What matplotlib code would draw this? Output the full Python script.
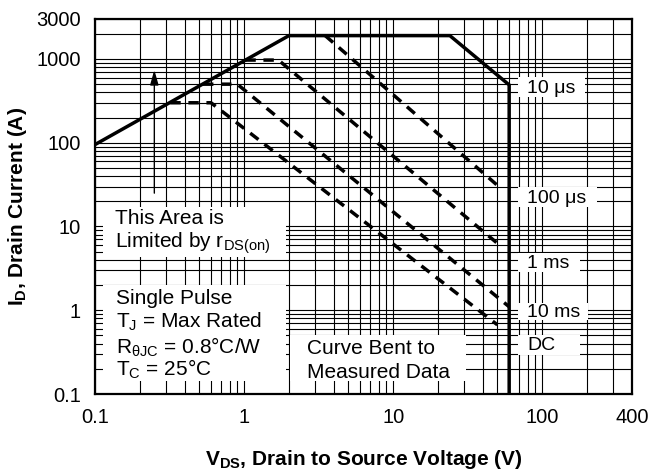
import numpy as np
import matplotlib
matplotlib.use("Agg")
import matplotlib.pyplot as plt
from matplotlib.patches import Rectangle
from matplotlib.ticker import FixedLocator, LogLocator, NullFormatter

plt.rcParams['font.family'] = ['Liberation Sans', 'DejaVu Sans']
plt.rcParams['mathtext.default'] = 'regular'

# safe operating area boundary (solid)
soa_v = [0.1, 2, 24, 60, 60]
soa_i = [95, 1900, 1900, 490, 0.1]

# pulse curves (dashed)
us100_v = [3.5, 50]
us100_i = [1900, 31]
ms1_v = [1.02, 1.7, 50]
ms1_i = [970, 970, 6.3]
ms10_v = [0.53, 0.9, 60]
ms10_i = [500, 500, 1.1]
dc_v = [0.32, 0.6, 50]
dc_i = [300, 300, 0.67]

# r_DS(on) arrow
arrow_v = 0.25
arrow_i = [25, 740]

xticks = [0.1, 1, 10, 100, 400]
xticklabels = ['0.1', '1', '10', '100', '400']
yticks = [0.1, 1, 10, 100, 1000, 3000]
yticklabels = ['0.1', '1', '10', '100', '1000', '3000']

curve_names = ['10 \u03bcs', '100 \u03bcs', '1 ms', '10 ms', 'DC']


fig = plt.figure(figsize=(6.52, 4.72), dpi=100)
ax = fig.add_axes([95/652, 1-394/472, 537/652, 375/472])
ax.set_xscale('log')
ax.set_yscale('log')
ax.set_xlim(0.1, 400)
ax.set_ylim(0.1, 3000)

# grid on every decade subdivision
ax.xaxis.set_major_locator(FixedLocator(xticks))
ax.yaxis.set_major_locator(FixedLocator(yticks))
ax.xaxis.set_minor_locator(LogLocator(base=10, subs=np.arange(2, 10), numticks=20))
ax.yaxis.set_minor_locator(LogLocator(base=10, subs=np.arange(2, 10), numticks=20))
ax.xaxis.set_minor_formatter(NullFormatter())
ax.yaxis.set_minor_formatter(NullFormatter())
ax.set_xticklabels(xticklabels)
ax.set_yticklabels(yticklabels)
ax.grid(which='both', color='black', linewidth=0.8, zorder=0)
ax.set_axisbelow(True)
ax.tick_params(which='both', length=0, labelsize=14.5)
ax.tick_params(axis='x', pad=10)
ax.tick_params(axis='y', pad=10)
for s in ax.spines.values():
    s.set_linewidth(1.6)
    s.set_zorder(5)


def box(px0, py0, px1, py1):
    """white box over the grid, given in pixel edges of the axes"""
    x0 = (px0 - 95) / 537.0
    y0 = (394 - py1) / 375.0
    r = Rectangle((x0, y0), (px1 - px0) / 537.0, (py1 - py0) / 375.0,
                  transform=ax.transAxes, facecolor='white', edgecolor='none', zorder=2)
    ax.add_patch(r)


def label(px, py, s, size=15):
    ax.text((px - 95) / 537.0, (394 - py) / 375.0, s, transform=ax.transAxes,
            ha='left', va='baseline', fontsize=size, zorder=4)


# left text boxes
box(103, 207, 286, 257)
box(103, 285, 286, 381)
box(290, 335, 466, 381)
label(115, 224, 'This Area is')
label(115, 248, 'Limited by r$_{DS(on)}$')
label(116, 304, 'Single Pulse')
label(116, 328, 'T$_J$ = Max Rated')
label(116, 354, 'R$_{\u03b8JC}$ = 0.8\u00b0C/W')
label(116, 376, 'T$_C$ = 25\u00b0C')
label(307, 354, 'Curve Bent to')
label(307, 378, 'Measured Data')

# curve name boxes on the right
name_boxes = [(77, 585, 97, 93), (187, 597, 207, 203), (253, 580, 272, 268),
              (303, 588, 320, 317), (335, 580, 355, 350)]
for name, (top, right, bottom, base) in zip(curve_names, name_boxes):
    box(518, top, right, bottom)
    label(527, base, name, size=14)

# curves
ax.plot(soa_v, soa_i, color='black', linewidth=2.5, zorder=3, solid_joinstyle='miter')
for v, i in [(us100_v, us100_i), (ms1_v, ms1_i), (ms10_v, ms10_i), (dc_v, dc_i)]:
    ax.plot(v, i, color='black', linewidth=2.5, dashes=(3.0, 2.2), zorder=3)

ax.annotate('', xy=(arrow_v, arrow_i[1]), xytext=(arrow_v, arrow_i[0]),
            arrowprops=dict(arrowstyle='-|>,head_length=0.6,head_width=0.17',
                            color='black', lw=1, mutation_scale=15, shrinkA=0, shrinkB=0),
            zorder=3)

ax.set_xlabel('V$_{DS}$, Drain to Source Voltage (V)', fontsize=15, fontweight='bold')
ax.set_ylabel('I$_D$, Drain Current (A)', fontsize=15, fontweight='bold')
ax.xaxis.set_label_coords(0.5, -0.145)
ax.yaxis.set_label_coords(-0.122, 0.5)

plt.savefig('out.png', dpi=100)
